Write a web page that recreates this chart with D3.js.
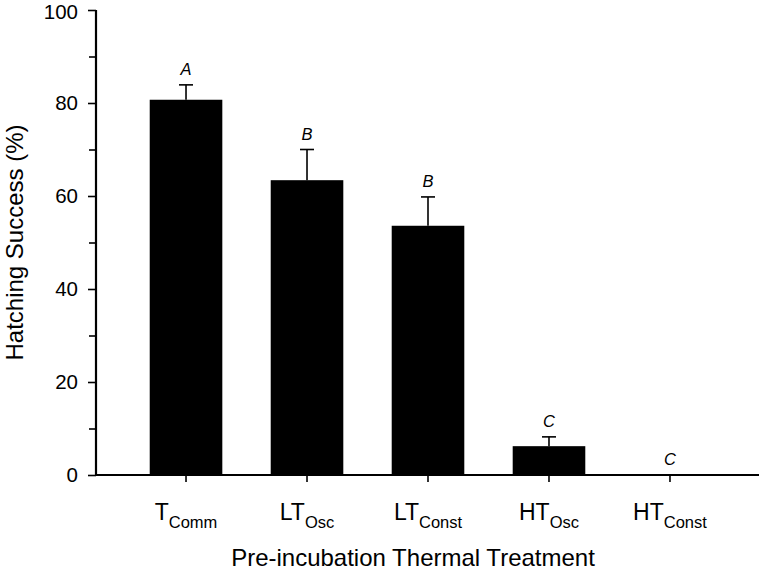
<!DOCTYPE html>
<html>
<head>
<meta charset="utf-8">
<script src="https://cdn.jsdelivr.net/npm/d3@7"></script>
<style>
  html, body { margin: 0; padding: 0; background: #fff; }
  svg { display: block; }
  text { font-family: "Liberation Sans", Arial, sans-serif; fill: #000; }
</style>
</head>
<body>
<svg id="chart" width="763" height="574"></svg>
<script>
// ---- data ----
const categories = ["TComm", "LTOsc", "LTConst", "HTOsc", "HTConst"];
const labelMain = ["T", "LT", "LT", "HT", "HT"];
const labelSub = ["Comm", "Osc", "Const", "Osc", "Const"];
const means = [80.7, 63.4, 53.6, 6.2, 0];
const errors = [3.2, 6.6, 6.2, 2.0, 0];
const letters = ["A", "B", "B", "C", "C"];
const yTicks = [0, 20, 40, 60, 80, 100];
const yMinorTicks = [10, 30, 50, 70, 90];

const svg = d3.select("#chart");
const axisLeftX = 96, axisRightX = 759;
const y = d3.scaleLinear().domain([0, 100]).range([475, 10]);
const x = d3.scaleBand().domain(categories).range([axisLeftX, 760]).paddingInner(0.4).paddingOuter(0.444);

// bars
svg.selectAll("rect.bar").data(categories).enter().append("rect")
  .attr("x", d => x(d))
  .attr("width", x.bandwidth())
  .attr("y", (d, i) => y(means[i]))
  .attr("height", (d, i) => y(0) - y(means[i]))
  .attr("fill", "#000");

// error bars (upper only)
const eb = svg.append("g").attr("stroke", "#000").attr("stroke-width", 1.6);
categories.forEach((c, i) => {
  if (errors[i] <= 0) return;
  const cx = x(c) + x.bandwidth() / 2;
  eb.append("line").attr("x1", cx).attr("x2", cx).attr("y1", y(means[i])).attr("y2", y(means[i] + errors[i]));
  eb.append("line").attr("x1", cx - 7).attr("x2", cx + 7).attr("y1", y(means[i] + errors[i])).attr("y2", y(means[i] + errors[i]));
});

// significance letters
svg.selectAll("text.letter").data(categories).enter().append("text")
  .attr("x", d => x(d) + x.bandwidth() / 2)
  .attr("y", (d, i) => y(means[i] + errors[i]) - 10)
  .attr("text-anchor", "middle")
  .attr("font-size", 16.5)
  .attr("font-style", "italic")
  .text((d, i) => letters[i]);

// y axis
const yAxis = d3.axisLeft(y).tickValues(yTicks).tickSize(8).tickPadding(10).tickFormat(d3.format("d"));
const gy = svg.append("g").attr("transform", `translate(${axisLeftX},0)`).call(yAxis);
gy.select(".domain").remove();
gy.selectAll("line").attr("stroke", "#000").attr("stroke-width", 1.6);
gy.selectAll("text").attr("font-size", 20.5).style("font-family", "'Liberation Sans', Arial, sans-serif")
  .attr("dy", d => d === 100 ? "0.42em" : "0.32em");
const yMinor = d3.axisLeft(y).tickValues(yMinorTicks).tickSize(7).tickFormat("");
const gym = svg.append("g").attr("transform", `translate(${axisLeftX},0)`).call(yMinor);
gym.select(".domain").remove();
gym.selectAll("line").attr("stroke", "#000").attr("stroke-width", 1.6);
svg.append("line").attr("x1", axisLeftX).attr("x2", axisLeftX).attr("y1", y(100)).attr("y2", y(0))
  .attr("stroke", "#000").attr("stroke-width", 2.2);

// x axis
svg.append("line").attr("x1", axisLeftX - 1).attr("x2", axisRightX).attr("y1", y(0)).attr("y2", y(0))
  .attr("stroke", "#000").attr("stroke-width", 2.2);
const xAxis = d3.axisBottom(x).tickSize(7).tickFormat("");
const gx = svg.append("g").attr("transform", `translate(0,${y(0)})`).call(xAxis);
gx.select(".domain").remove();
gx.selectAll("line").attr("stroke", "#000").attr("stroke-width", 1.6);

// x tick labels with subscripts
categories.forEach((c, i) => {
  const t = svg.append("text")
    .attr("x", x(c) + x.bandwidth() / 2)
    .attr("y", 520)
    .attr("text-anchor", "middle")
    .attr("font-size", 23);
  t.append("tspan").text(labelMain[i]);
  t.append("tspan").attr("font-size", 16.5).attr("dy", 8).text(labelSub[i]);
});

// axis titles
svg.append("text")
  .attr("x", 413).attr("y", 566)
  .attr("text-anchor", "middle")
  .attr("font-size", 24)
  .text("Pre-incubation Thermal Treatment");

svg.append("text")
  .attr("transform", `translate(23,${(y(0) + y(100)) / 2}) rotate(-90)`)
  .attr("text-anchor", "middle")
  .attr("font-size", 24)
  .text("Hatching Success (%)");
</script>
</body>
</html>
